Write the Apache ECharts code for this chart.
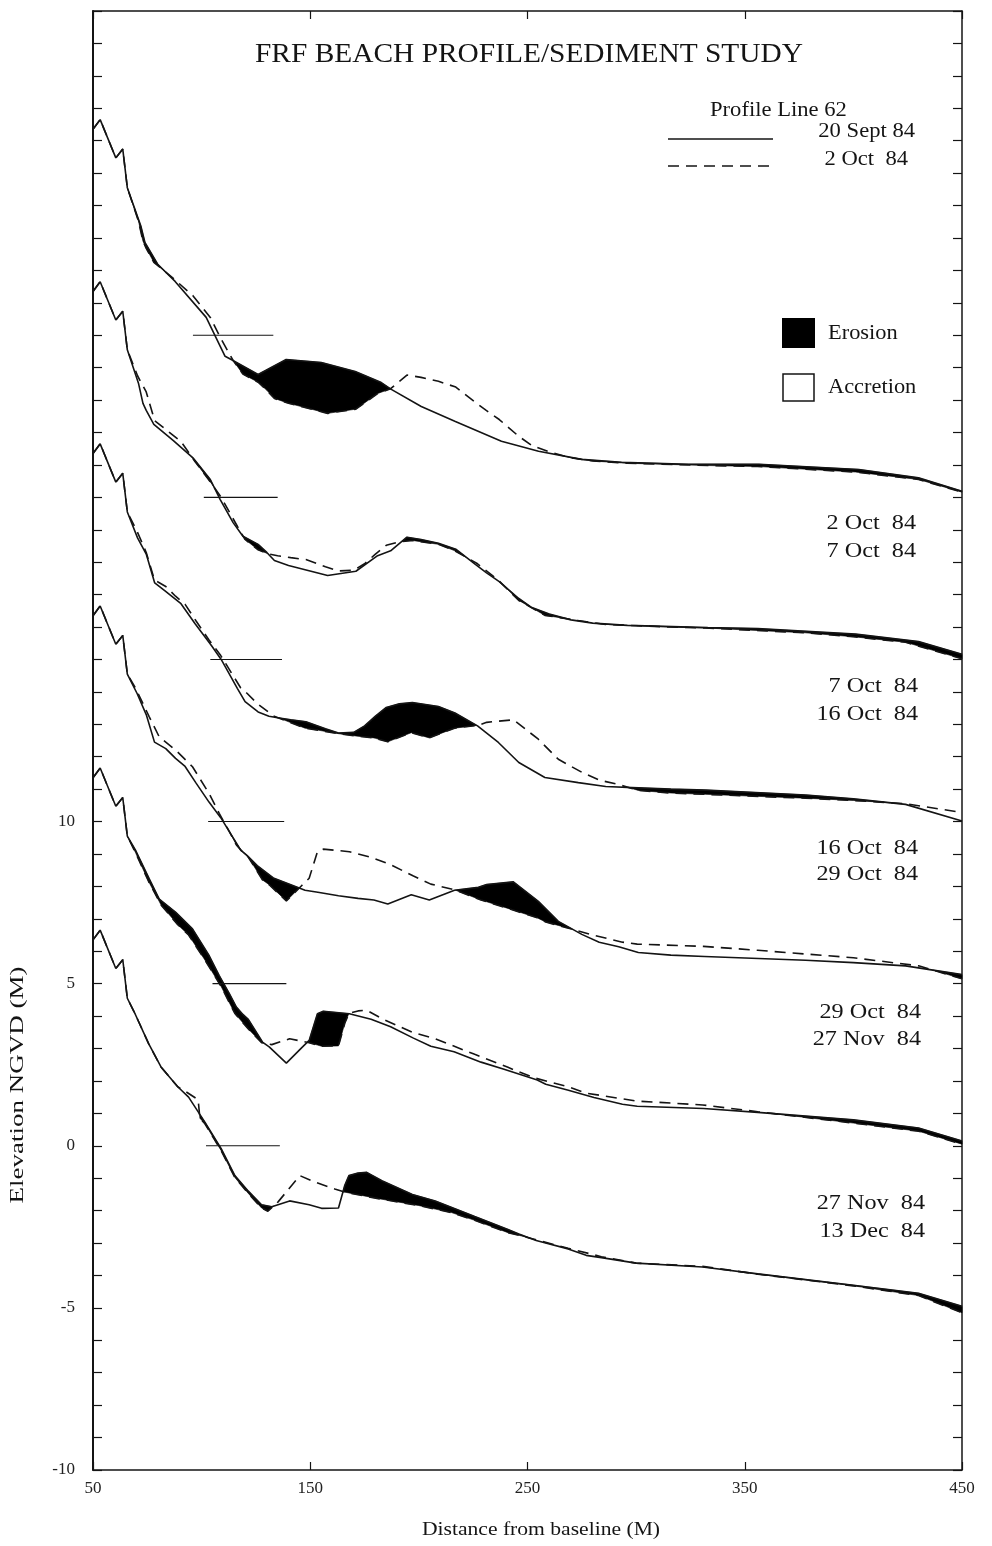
<!DOCTYPE html>
<html>
<head>
<meta charset="utf-8">
<script src="https://cdn.jsdelivr.net/npm/echarts@6/dist/echarts.min.js"></script>
<style>
html,body{margin:0;padding:0;background:#fff;}
#chart{width:992px;height:1546px;}
</style>
</head>
<body>
<div id="chart"></div>
<script>
// ---- Profiles: [distance from baseline (m), elevation NGVD (m)] ----
const sept20 = [[50,6.35],[53.3,6.65],[60.5,5.47],[63.7,5.74],[65.8,4.55],[72.1,3.35],[73.9,2.86],[79.9,2.18],[87.8,1.66],[102.1,0.55],[110.8,-0.65],[113.6,-0.75],[126,-1.21],[138.9,-0.75],[155.1,-0.84],[170.7,-1.12],[182.7,-1.46],[187.3,-1.67],[201.1,-2.2],[216.8,-2.66],[238,-3.27],[255.1,-3.58],[274.9,-3.83],[293.3,-3.92],[324.2,-3.98],[356.5,-3.98],[402.5,-4.14],[430,-4.4],[450,-4.81]];
const oct2 = [[50,6.35],[53.3,6.65],[60.5,5.47],[63.7,5.74],[65.8,4.55],[71,3.5],[73,2.9],[74.5,2.68],[78,2.25],[87,1.75],[96,1.22],[104,0.55],[108.5,-0.06],[114.5,-0.78],[119,-1.2],[126,-1.45],[130,-1.7],[133.5,-1.95],[140,-2.1],[158,-2.41],[171,-2.28],[181,-1.8],[187,-1.65],[194.5,-1.23],[201,-1.3],[209,-1.42],[217,-1.6],[226,-2.07],[231,-2.32],[237,-2.6],[246,-3.12],[252,-3.4],[260,-3.6],[270,-3.78],[280,-3.88],[296,-3.95],[333,-4.02],[356,-4.05],[401,-4.22],[430,-4.45],[450,-4.84]];
const oct7 = [[50,6.35],[53.3,6.65],[60.5,5.47],[63.7,5.74],[65.8,4.55],[70.5,3.75],[74.5,3.25],[78.4,2.36],[83,2.12],[90.5,1.72],[97,1.1],[104.5,0.43],[109,0.0],[116.5,-0.9],[120,-1.3],[126,-1.62],[131,-1.75],[135,-1.8],[141,-1.86],[148,-1.92],[157,-2.14],[163,-2.27],[170,-2.25],[175,-2.05],[180,-1.75],[185,-1.48],[191,-1.37],[197,-1.33],[209,-1.45],[216.6,-1.65],[227,-2.05],[236.6,-2.56],[246,-3.18],[258,-3.64],[273.4,-3.8],[286,-3.92],[301,-3.96],[316,-4.0],[332,-4.03],[378,-4.18],[400,-4.3],[424,-4.47],[450,-4.98]];
const oct16 = [[50,6.35],[53.3,6.65],[60.5,5.47],[63.7,5.74],[65.8,4.55],[70.3,3.95],[74.5,3.3],[78.3,2.45],[83.5,2.25],[88,1.95],[92.4,1.7],[97.3,1.2],[103.4,0.6],[108.8,0.12],[118,-0.88],[121,-1.05],[125.6,-1.36],[133,-1.74],[147.6,-2.12],[153.5,-2.18],[163,-2.29],[172,-2.37],[179.3,-2.42],[185.7,-2.54],[196.5,-2.26],[204.8,-2.42],[216.4,-2.12],[227.4,-2.03],[231.2,-1.94],[243.5,-1.86],[255,-2.46],[264.2,-3.08],[275,-3.48],[283,-3.72],[292,-3.86],[301,-4.04],[316,-4.12],[331.5,-4.16],[378,-4.28],[400,-4.35],[424,-4.45],[450,-4.72]];
const oct29 = [[50,6.35],[53.3,6.65],[60.5,5.47],[63.7,5.74],[65.8,4.55],[69.7,4.1],[75.9,3.23],[80.5,2.61],[88.1,2.2],[95.8,1.69],[103.5,0.86],[108.1,0.25],[112.7,-0.3],[116,-0.72],[119,-0.95],[121.5,-1.1],[128,-1.8],[131.1,-1.95],[139,-2.45],[146,-1.98],[149.5,-1.75],[153.3,-0.93],[156,-0.85],[168,-0.93],[178,-1.1],[187,-1.33],[197.5,-1.68],[205.5,-1.93],[216.2,-2.1],[228.6,-2.42],[239.2,-2.64],[254.5,-2.97],[258.4,-3.1],[268.4,-3.28],[280.6,-3.51],[293.7,-3.72],[300.5,-3.78],[331,-3.85],[356,-3.97],[400,-4.2],[430,-4.45],[450,-4.85]];
const nov27 = [[50,6.35],[53.3,6.65],[60.5,5.47],[63.7,5.74],[65.8,4.55],[69.5,4.05],[75.6,3.15],[81.3,2.43],[89,1.82],[94,1.5],[101.5,0.73],[109,-0.09],[115.3,-0.92],[121.5,-1.4],[127.6,-1.82],[132.3,-1.88],[140.5,-1.7],[149.5,-1.82],[155.2,-1.93],[163,-1.92],[165.9,-1.22],[167.8,-0.92],[172,-0.84],[176,-0.82],[183,-1.08],[197,-1.5],[207.5,-1.7],[225.7,-2.18],[241,-2.58],[246,-2.72],[254,-2.92],[268.7,-3.18],[277,-3.38],[284,-3.45],[300,-3.62],[330.6,-3.74],[356,-3.95],[400,-4.3],[430,-4.55],[450,-4.95]];
const dec13 = [[50,6.35],[53.3,6.65],[60.5,5.47],[63.7,5.74],[65.8,4.55],[69.5,4.05],[75.6,3.15],[81.3,2.43],[89,1.82],[92.5,1.68],[98.4,1.42],[99.2,0.85],[101.5,0.68],[109,-0.15],[115.3,-0.98],[121.5,-1.47],[127.6,-1.92],[130.5,-2.02],[135.2,-1.73],[145.2,-0.92],[152.1,-1.12],[161.3,-1.33],[165.9,-1.43],[181.3,-1.63],[199.7,-1.84],[215,-2.06],[225.7,-2.3],[241,-2.68],[246,-2.76],[268.7,-3.16],[284,-3.42],[300,-3.62],[330.6,-3.72],[356,-3.96],[400,-4.32],[430,-4.62],[450,-5.15]];

// ---- Pairs (earlier solid, later dashed), vertical offsets and labels ----
const pairEarlier = [sept20, oct2, oct7, oct16, oct29, nov27];
const pairLater   = [oct2, oct7, oct16, oct29, nov27, dec13];
const pairOffsets = [25, 20, 15, 10, 5, 0];
const pairLabelsEarlier = ['20 Sept 84', '2 Oct  84', '7 Oct  84', '16 Oct  84', '29 Oct  84', '27 Nov  84'];
const pairLabelsLater   = ['2 Oct  84', '7 Oct  84', '16 Oct  84', '29 Oct  84', '27 Nov  84', '13 Dec  84'];
// zero-datum reference segments (distance range) per pair
const refStart = [96, 101, 104, 103, 105, 102];
const refEnd   = [133, 135, 137, 138, 139, 136];

// ---- Axis ----
const xMin = 50, xMax = 450, xStep = 100;
const yMin = -10, yMax = 35, yStep = 1;
const yTickLabels = [-10, -5, 0, 5, 10];

const SERIF = '"Liberation Serif", "DejaVu Serif", serif';
const INK = '#141414';

function interp(arr, x) {
  if (x <= arr[0][0]) return arr[0][1];
  for (let i = 1; i < arr.length; i++) {
    if (x <= arr[i][0]) {
      const t = (x - arr[i-1][0]) / (arr[i][0] - arr[i-1][0]);
      return arr[i-1][1] + t * (arr[i][1] - arr[i-1][1]);
    }
  }
  return arr[arr.length-1][1];
}

// Erosion polygons: where later profile lies below earlier profile
function erosionPolys(earlier, later) {
  const xs = Array.from(new Set(earlier.map(p => p[0]).concat(later.map(p => p[0])))).sort((a, b) => a - b);
  const out = [];
  let cur = null, px = null, pd = null;
  xs.forEach((x) => {
    const e = interp(earlier, x), l = interp(later, x), d = e - l;
    if (px !== null && ((pd > 0) !== (d > 0))) {
      const xc = (pd - d) !== 0 ? px + (x - px) * pd / (pd - d) : x;
      const yc = interp(earlier, xc);
      if (cur) { cur.top.push([xc, yc]); cur.bot.push([xc, yc]); out.push(cur); cur = null; }
      else if (d > 0) { cur = { top: [[xc, yc]], bot: [[xc, yc]] }; }
    }
    if (d > 0) {
      if (!cur) cur = { top: [], bot: [] };
      cur.top.push([x, e]); cur.bot.push([x, l]);
    }
    px = x; pd = d;
  });
  if (cur) out.push(cur);
  return out.map(c => c.top.concat(c.bot.slice().reverse()));
}

const polys = [];
pairEarlier.forEach((e, k) => {
  erosionPolys(e, pairLater[k]).forEach(pts => polys.push({ pts, offset: pairOffsets[k] }));
});

const series = [];
series.push({
  type: 'custom',
  coordinateSystem: 'cartesian2d',
  silent: true,
  animation: false,
  z: 1,
  data: polys.map((p, i) => [p.pts[0][0], p.pts[0][1] + p.offset, i]),
  renderItem: function (params, api) {
    const p = polys[params.dataIndex];
    return {
      type: 'polygon',
      shape: { points: p.pts.map(q => api.coord([q[0], q[1] + p.offset])) },
      style: { fill: '#000', stroke: '#000', lineWidth: 0.6 }
    };
  }
});

pairEarlier.forEach((e, k) => {
  const off = pairOffsets[k];
  series.push({
    type: 'line', silent: true, animation: false, z: 3,
    showSymbol: false, symbol: 'none',
    data: e.map(p => [p[0], p[1] + off]),
    lineStyle: { color: INK, width: 1.6, type: 'solid' }
  });
  series.push({
    type: 'line', silent: true, animation: false, z: 3,
    showSymbol: false, symbol: 'none',
    data: pairLater[k].map(p => [p[0], p[1] + off]),
    lineStyle: { color: INK, width: 1.6, type: [11, 7] }
  });
  series.push({
    type: 'line', silent: true, animation: false, z: 2,
    showSymbol: false, symbol: 'none',
    data: [[refStart[k], off], [refEnd[k], off]],
    lineStyle: { color: INK, width: 1.1, type: 'solid' }
  });
});

function txt(x, y, text, size, align, extra) {
  return Object.assign({
    type: 'text', x: x, y: y,
    style: { text: text, font: size + 'px ' + SERIF, fill: INK, textAlign: align, textVerticalAlign: 'middle', align: align, verticalAlign: 'middle' }
  }, extra || {});
}

// Text / legend graphics
const graphic = [
  txt(529, 55, 'FRF BEACH PROFILE/SEDIMENT STUDY', 28, 'center', { scaleX: 1.05 }),
  txt(710, 111, 'Profile Line 62', 20, 'left', { scaleX: 1.13 }),
  { type: 'line', shape: { x1: 668, y1: 139, x2: 773, y2: 139 }, style: { stroke: INK, lineWidth: 1.6 } },
  { type: 'line', shape: { x1: 668, y1: 166, x2: 776, y2: 166 }, style: { stroke: INK, lineWidth: 1.6, lineDash: [11, 7] } },
  txt(915, 132, pairLabelsEarlier[0], 20, 'right', { scaleX: 1.13 }),
  txt(908, 160, pairLabelsLater[0], 20, 'right', { scaleX: 1.13 }),
  { type: 'rect', shape: { x: 782, y: 318, width: 33, height: 30 }, style: { fill: '#000' } },
  txt(828, 334, 'Erosion', 20, 'left', { scaleX: 1.12 }),
  { type: 'rect', shape: { x: 783, y: 374, width: 31, height: 27 }, style: { fill: '#fff', stroke: INK, lineWidth: 1.5 } },
  txt(828, 388, 'Accretion', 20, 'left', { scaleX: 1.12 }),
  txt(18, 1085, 'Elevation NGVD (M)', 18, 'center', { rotation: Math.PI / 2, scaleX: 1.5 }),
  txt(541, 1530, 'Distance from baseline (M)', 18, 'center', { scaleX: 1.2 })
];
const labelY = [[0,0],[523,551],[686,714],[848,874],[1012,1039],[1203,1231]];
const labelX = [0, 916, 918, 918, 921, 925];
for (let k = 1; k < pairOffsets.length; k++) {
  graphic.push(txt(labelX[k], labelY[k][0], pairLabelsEarlier[k], 22, 'right', { scaleX: 1.1 }));
  graphic.push(txt(labelX[k], labelY[k][1], pairLabelsLater[k], 22, 'right', { scaleX: 1.1 }));
}

const axisLine = { show: true, onZero: false, lineStyle: { color: INK, width: 1.5 } };
const option = {
  backgroundColor: '#fff',
  animation: false,
  grid: { left: 93, right: 30, top: 11, bottom: 76, containLabel: false },
  xAxis: [
    {
      type: 'value', min: xMin, max: xMax, interval: xStep, position: 'bottom',
      axisLine: axisLine,
      axisTick: { show: true, inside: true, length: 8, lineStyle: { color: INK, width: 1.2 } },
      splitLine: { show: false },
      axisLabel: { color: '#222', fontFamily: SERIF, fontSize: 17, margin: 10 }
    },
    {
      type: 'value', min: xMin, max: xMax, interval: xStep, position: 'top',
      axisLine: axisLine,
      axisTick: { show: true, inside: true, length: 8, lineStyle: { color: INK, width: 1.2 } },
      splitLine: { show: false }, axisLabel: { show: false }
    }
  ],
  yAxis: [
    {
      type: 'value', min: yMin, max: yMax, interval: yStep, position: 'left',
      axisLine: { show: true, onZero: false, lineStyle: { color: INK, width: 2 } },
      axisTick: { show: true, inside: true, length: 9, lineStyle: { color: INK, width: 1.2 } },
      splitLine: { show: false },
      axisLabel: {
        color: '#222', fontFamily: SERIF, fontSize: 17, margin: 18,
        formatter: v => (yTickLabels.indexOf(v) >= 0 ? String(v) : '')
      }
    },
    {
      type: 'value', min: yMin, max: yMax, interval: yStep, position: 'right',
      axisLine: axisLine,
      axisTick: { show: true, inside: true, length: 9, lineStyle: { color: INK, width: 1.2 } },
      splitLine: { show: false }, axisLabel: { show: false }
    }
  ],
  graphic: graphic,
  series: series
};

const chart = echarts.init(document.getElementById('chart'), null, { renderer: 'canvas' });
chart.setOption(option);
</script>
</body>
</html>
